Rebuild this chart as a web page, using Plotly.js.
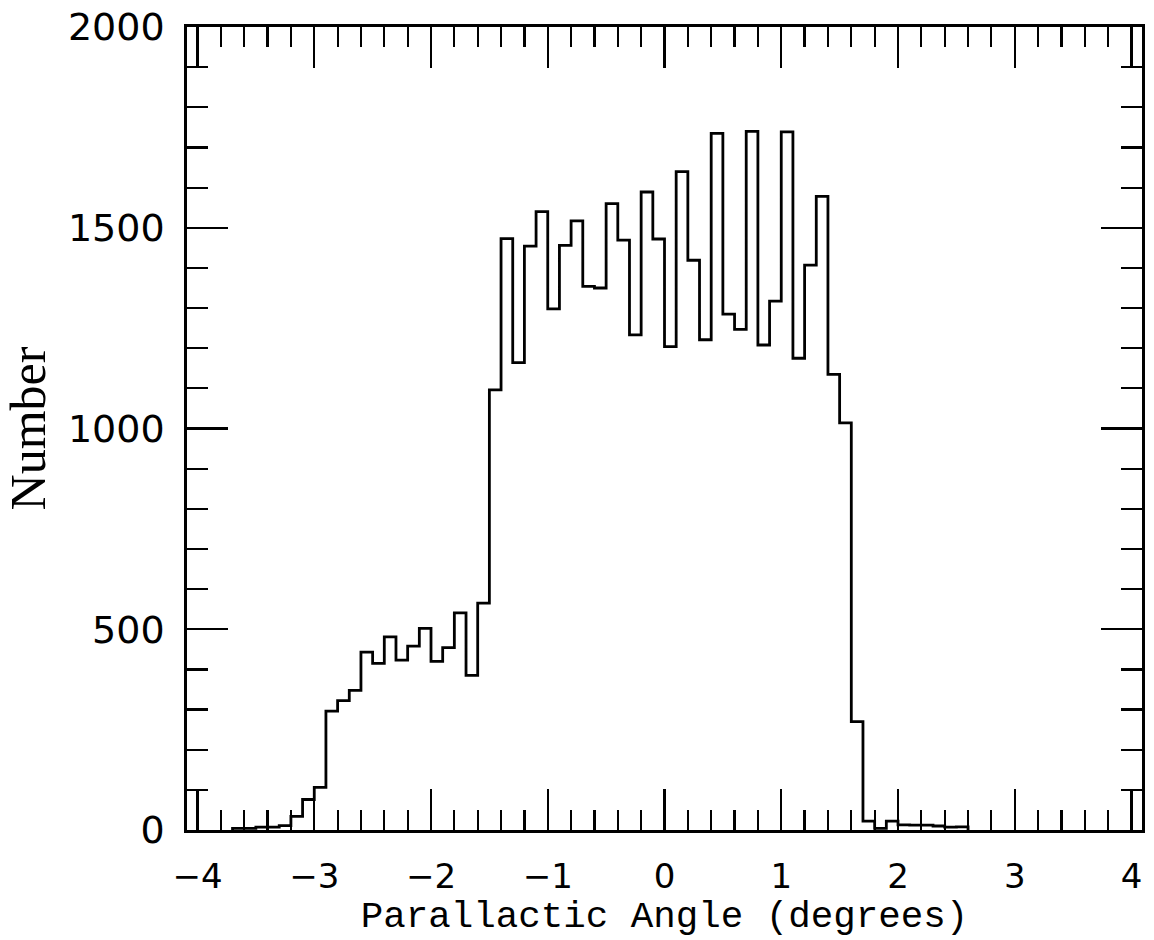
<!DOCTYPE html>
<html>
<head>
<meta charset="utf-8">
<script src="https://cdn.plot.ly/plotly-3.0.1.min.js"></script>
<style>
  html, body { margin: 0; padding: 0; background: #fff; }
  #chart { width: 1154px; height: 940px; }
</style>
</head>
<body>
<div id="chart"></div>
<script>
// Histogram of parallactic angle: bins of 0.1 degree starting at -3.7
const binStart = -3.7;
const binWidth = 0.1;
const counts = [
  4, 4, 7, 7, 11, 34, 76, 106,            // -3.7 .. -3.0
  296, 322, 348, 443, 415, 481, 423, 458, 502, 420, // -2.9 .. -2.0
  454, 541, 385, 565, 1096, 1473, 1164, 1454, 1540, 1298, // -1.9 .. -1.0
  1456, 1517, 1354, 1350, 1560, 1469, 1233, 1589, 1472, // -0.9 .. -0.1
  1204, 1640, 1419, 1221, 1735, 1285, 1247, 1740, 1208, 1317, // 0.0 .. 0.9
  1739, 1175, 1407, 1578, 1135, 1014, 270, 22, 4, 22,  // 1.0 .. 1.9
  13, 12, 12, 10, 7, 8                    // 2.0 .. 2.5
];
const xTickVals = [-4, -3, -2, -1, 0, 1, 2, 3, 4];
const yTickVals = [0, 500, 1000, 1500, 2000];
const xTitle = 'Parallactic Angle (degrees)';
const yTitle = 'Number';

// Build step outline from bin edges
const edges = counts.map((_, i) => +(binStart + i * binWidth).toFixed(4));
edges.push(+(binStart + counts.length * binWidth).toFixed(4));
const stepX = [edges[0]].concat(edges);
const stepY = [0].concat(counts).concat([0]);

const trace = {
  type: 'scatter',
  mode: 'lines',
  x: stepX,
  y: stepY,
  line: { shape: 'hv', color: '#000', width: 2.8 },
  hoverinfo: 'skip'
};

const axisCommon = {
  showgrid: false,
  zeroline: false,
  showline: true,
  linecolor: '#000',
  linewidth: 2.8,
  mirror: 'ticks',
  ticks: 'inside',
  tickcolor: '#000',
  tickwidth: 2.2,
  tickmode: 'array'
};

const layout = {
  width: 1154,
  height: 940,
  margin: { l: 187, r: 12, t: 27, b: 110 },
  paper_bgcolor: '#fff',
  plot_bgcolor: '#fff',
  showlegend: false,
  xaxis: Object.assign({}, axisCommon, {
    range: [-4.09, 4.09],
    tickvals: xTickVals,
    ticktext: xTickVals.map(v => v < 0 ? '\u2212' + Math.abs(v) : String(v)),
    ticklen: 41,
    minor: { dtick: 0.2, tick0: 0, ticks: 'inside', ticklen: 20, tickcolor: '#000', tickwidth: 2.2, showgrid: false },
    tickfont: { family: 'DejaVu Sans', size: 34, color: '#000' },
    ticklabelstandoff: 14,
    title: { text: xTitle, font: { family: 'Liberation Mono', size: 37.5, color: '#000' }, standoff: 6 }
  }),
  yaxis: Object.assign({}, axisCommon, {
    range: [0, 2000],
    tickvals: yTickVals,
    ticktext: yTickVals.map(String),
    ticklen: 41,
    minor: { dtick: 100, tick0: 0, ticks: 'inside', ticklen: 21, tickcolor: '#000', tickwidth: 2.2, showgrid: false },
    tickfont: { family: 'DejaVu Sans', size: 38, color: '#000' },
    ticklabelstandoff: 12,
    title: { text: yTitle, font: { family: 'Liberation Serif', size: 50, color: '#000' }, standoff: 20 }
  })
};

Plotly.newPlot('chart', [trace], layout, { staticPlot: true, displayModeBar: false });
</script>
</body>
</html>
